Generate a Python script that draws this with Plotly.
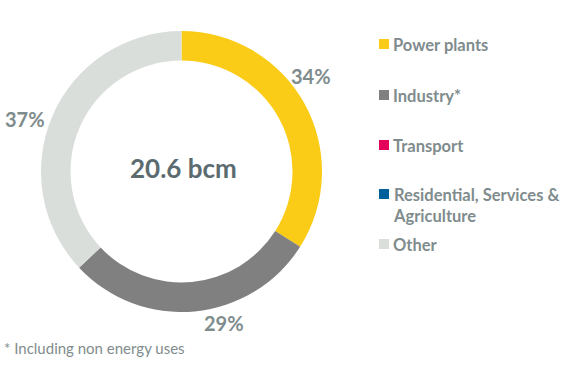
import plotly.graph_objects as go

W, H = 567, 369

categories = ["Power plants", "Industry*", "Transport", "Residential, Services &<br>Agriculture", "Other"]
shares = [34, 29, 0, 0, 37]
colors = ["#FACC18", "#808080", "#E4005B", "#00609C", "#D9DEDB"]
total_label = "20.6 bcm"
footnote = "* Including non energy uses"

TEXT = "#7F8C8D"
FONT = "Lato"

cx, cy, R = 181.5, 171.5, 140.5

fig = go.Figure()
fig.add_trace(go.Pie(
    labels=categories, values=shares, marker=dict(colors=colors, line=dict(width=0)),
    hole=0.79, sort=False, direction="clockwise", rotation=0,
    textinfo="none", showlegend=False, hoverinfo="none",
    domain=dict(x=[(cx - R) / W, (cx + R) / W], y=[1 - (cy + R) / H, 1 - (cy - R) / H]),
))

def px(x):
    return x / W

def py(y):
    return 1 - y / H

ann = []
# slice percentage labels
label_pos = {0: (311, 76), 1: (224, 323), 4: (25, 119)}
for i, (x, y) in label_pos.items():
    ann.append(dict(x=px(x), y=py(y), xref="paper", yref="paper", text=f"<b>{shares[i]}%</b>",
                    showarrow=False, font=dict(family=FONT, size=20, color=TEXT),
                    xanchor="center", yanchor="middle"))
# centre label
ann.append(dict(x=px(cx + 2), y=py(168), xref="paper", yref="paper", text=f"<b>{total_label}</b>",
                showarrow=False, font=dict(family=FONT, size=26, color="#5B6B70"),
                xanchor="center", yanchor="middle"))
# footnote
ann.append(dict(x=px(2), y=py(348), xref="paper", yref="paper", text=footnote,
                showarrow=False, font=dict(family=FONT, size=15, color=TEXT),
                xanchor="left", yanchor="middle"))

# custom legend
legend_y = [44, 95, 145, 194, 244]
shapes = []
for cat, col, y in zip(categories, colors, legend_y):
    shapes.append(dict(type="rect", xref="paper", yref="paper",
                       x0=px(379), x1=px(389), y0=py(y + 5), y1=py(y - 5),
                       fillcolor=col, line=dict(width=0)))
    ann.append(dict(x=px(391), y=py(y - 11), xref="paper", yref="paper",
                    text="<b>" + cat + "</b>", showarrow=False, align="left",
                    font=dict(family=FONT, size=16.5, color=TEXT),
                    xanchor="left", yanchor="top"))

fig.update_layout(
    width=W, height=H, margin=dict(l=0, r=0, t=0, b=0),
    paper_bgcolor="white", plot_bgcolor="white",
    annotations=ann, shapes=shapes,
)

fig.write_html("out.html", config={"displayModeBar": False},
               post_script="document.body.style.margin='0';")
